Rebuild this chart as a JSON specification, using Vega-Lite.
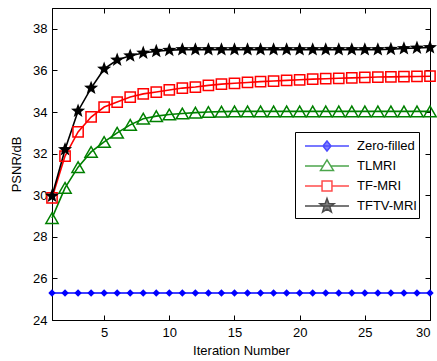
{
  "$schema": "https://vega.github.io/schema/vega-lite/v6.json",
  "autosize": "none",
  "width": 378,
  "height": 312,
  "padding": {"left": 52, "top": 8, "right": 7, "bottom": 41},
  "background": "white",
  "view": {"stroke": "black", "strokeWidth": 1},
  "config": {
    "font": "Liberation Sans",
    "axis": {
      "domainColor": "black", "domainWidth": 1, "tickColor": "black", "tickWidth": 1,
      "labelColor": "black", "labelFont": "Liberation Sans", "labelFontSize": 13,
      "titleFont": "Liberation Sans", "titleFontSize": 13, "titleFontWeight": "normal", "titleColor": "black",
      "grid": false, "tickSize": -5
    }
  },
  "data": {"values": [
    {"method":"Zero-filled","iter":1,"psnr":25.3},{"method":"Zero-filled","iter":2,"psnr":25.3},{"method":"Zero-filled","iter":3,"psnr":25.3},{"method":"Zero-filled","iter":4,"psnr":25.3},{"method":"Zero-filled","iter":5,"psnr":25.3},{"method":"Zero-filled","iter":6,"psnr":25.3},{"method":"Zero-filled","iter":7,"psnr":25.3},{"method":"Zero-filled","iter":8,"psnr":25.3},{"method":"Zero-filled","iter":9,"psnr":25.3},{"method":"Zero-filled","iter":10,"psnr":25.3},
    {"method":"Zero-filled","iter":11,"psnr":25.3},{"method":"Zero-filled","iter":12,"psnr":25.3},{"method":"Zero-filled","iter":13,"psnr":25.3},{"method":"Zero-filled","iter":14,"psnr":25.3},{"method":"Zero-filled","iter":15,"psnr":25.3},{"method":"Zero-filled","iter":16,"psnr":25.3},{"method":"Zero-filled","iter":17,"psnr":25.3},{"method":"Zero-filled","iter":18,"psnr":25.3},{"method":"Zero-filled","iter":19,"psnr":25.3},{"method":"Zero-filled","iter":20,"psnr":25.3},
    {"method":"Zero-filled","iter":21,"psnr":25.3},{"method":"Zero-filled","iter":22,"psnr":25.3},{"method":"Zero-filled","iter":23,"psnr":25.3},{"method":"Zero-filled","iter":24,"psnr":25.3},{"method":"Zero-filled","iter":25,"psnr":25.3},{"method":"Zero-filled","iter":26,"psnr":25.3},{"method":"Zero-filled","iter":27,"psnr":25.3},{"method":"Zero-filled","iter":28,"psnr":25.3},{"method":"Zero-filled","iter":29,"psnr":25.3},{"method":"Zero-filled","iter":30,"psnr":25.3},
    {"method":"TLMRI","iter":1,"psnr":28.9},{"method":"TLMRI","iter":2,"psnr":30.35},{"method":"TLMRI","iter":3,"psnr":31.35},{"method":"TLMRI","iter":4,"psnr":32.08},{"method":"TLMRI","iter":5,"psnr":32.56},{"method":"TLMRI","iter":6,"psnr":33.0},{"method":"TLMRI","iter":7,"psnr":33.38},{"method":"TLMRI","iter":8,"psnr":33.68},{"method":"TLMRI","iter":9,"psnr":33.8},{"method":"TLMRI","iter":10,"psnr":33.88},
    {"method":"TLMRI","iter":11,"psnr":33.93},{"method":"TLMRI","iter":12,"psnr":33.97},{"method":"TLMRI","iter":13,"psnr":34.0},{"method":"TLMRI","iter":14,"psnr":34.02},{"method":"TLMRI","iter":15,"psnr":34.03},{"method":"TLMRI","iter":16,"psnr":34.03},{"method":"TLMRI","iter":17,"psnr":34.03},{"method":"TLMRI","iter":18,"psnr":34.03},{"method":"TLMRI","iter":19,"psnr":34.03},{"method":"TLMRI","iter":20,"psnr":34.03},
    {"method":"TLMRI","iter":21,"psnr":34.03},{"method":"TLMRI","iter":22,"psnr":34.03},{"method":"TLMRI","iter":23,"psnr":34.03},{"method":"TLMRI","iter":24,"psnr":34.03},{"method":"TLMRI","iter":25,"psnr":34.03},{"method":"TLMRI","iter":26,"psnr":34.03},{"method":"TLMRI","iter":27,"psnr":34.03},{"method":"TLMRI","iter":28,"psnr":34.03},{"method":"TLMRI","iter":29,"psnr":34.03},{"method":"TLMRI","iter":30,"psnr":34.03},
    {"method":"TF-MRI","iter":1,"psnr":29.87},{"method":"TF-MRI","iter":2,"psnr":31.88},{"method":"TF-MRI","iter":3,"psnr":33.04},{"method":"TF-MRI","iter":4,"psnr":33.76},{"method":"TF-MRI","iter":5,"psnr":34.24},{"method":"TF-MRI","iter":6,"psnr":34.48},{"method":"TF-MRI","iter":7,"psnr":34.72},{"method":"TF-MRI","iter":8,"psnr":34.87},{"method":"TF-MRI","iter":9,"psnr":34.96},{"method":"TF-MRI","iter":10,"psnr":35.06},
    {"method":"TF-MRI","iter":11,"psnr":35.15},{"method":"TF-MRI","iter":12,"psnr":35.2},{"method":"TF-MRI","iter":13,"psnr":35.28},{"method":"TF-MRI","iter":14,"psnr":35.34},{"method":"TF-MRI","iter":15,"psnr":35.38},{"method":"TF-MRI","iter":16,"psnr":35.42},{"method":"TF-MRI","iter":17,"psnr":35.46},{"method":"TF-MRI","iter":18,"psnr":35.49},{"method":"TF-MRI","iter":19,"psnr":35.52},{"method":"TF-MRI","iter":20,"psnr":35.55},
    {"method":"TF-MRI","iter":21,"psnr":35.58},{"method":"TF-MRI","iter":22,"psnr":35.6},{"method":"TF-MRI","iter":23,"psnr":35.62},{"method":"TF-MRI","iter":24,"psnr":35.64},{"method":"TF-MRI","iter":25,"psnr":35.66},{"method":"TF-MRI","iter":26,"psnr":35.68},{"method":"TF-MRI","iter":27,"psnr":35.69},{"method":"TF-MRI","iter":28,"psnr":35.7},{"method":"TF-MRI","iter":29,"psnr":35.71},{"method":"TF-MRI","iter":30,"psnr":35.72},
    {"method":"TFTV-MRI","iter":1,"psnr":29.96},{"method":"TFTV-MRI","iter":2,"psnr":32.2},{"method":"TFTV-MRI","iter":3,"psnr":34.05},{"method":"TFTV-MRI","iter":4,"psnr":35.15},{"method":"TFTV-MRI","iter":5,"psnr":36.07},{"method":"TFTV-MRI","iter":6,"psnr":36.5},{"method":"TFTV-MRI","iter":7,"psnr":36.7},{"method":"TFTV-MRI","iter":8,"psnr":36.84},{"method":"TFTV-MRI","iter":9,"psnr":36.92},{"method":"TFTV-MRI","iter":10,"psnr":36.97},
    {"method":"TFTV-MRI","iter":11,"psnr":37.0},{"method":"TFTV-MRI","iter":12,"psnr":37.0},{"method":"TFTV-MRI","iter":13,"psnr":37.0},{"method":"TFTV-MRI","iter":14,"psnr":37.0},{"method":"TFTV-MRI","iter":15,"psnr":37.0},{"method":"TFTV-MRI","iter":16,"psnr":37.0},{"method":"TFTV-MRI","iter":17,"psnr":37.0},{"method":"TFTV-MRI","iter":18,"psnr":37.0},{"method":"TFTV-MRI","iter":19,"psnr":37.0},{"method":"TFTV-MRI","iter":20,"psnr":37.0},
    {"method":"TFTV-MRI","iter":21,"psnr":37.0},{"method":"TFTV-MRI","iter":22,"psnr":37.0},{"method":"TFTV-MRI","iter":23,"psnr":37.0},{"method":"TFTV-MRI","iter":24,"psnr":37.0},{"method":"TFTV-MRI","iter":25,"psnr":37.0},{"method":"TFTV-MRI","iter":26,"psnr":37.0},{"method":"TFTV-MRI","iter":27,"psnr":37.02},{"method":"TFTV-MRI","iter":28,"psnr":37.05},{"method":"TFTV-MRI","iter":29,"psnr":37.08},{"method":"TFTV-MRI","iter":30,"psnr":37.1}
  ]},
  "layer": [
    {
      "transform": [{"filter": "datum.method === 'Zero-filled'"}],
      "mark": {"type": "line", "strokeWidth": 1.6, "color": "#0000ff"},
      "encoding": {
        "x": {"field": "iter", "type": "quantitative", "scale": {"domain": [1, 30], "nice": false, "zero": false},
              "axis": {"orient": "bottom", "values": [5, 10, 15, 20, 25, 30], "title": "Iteration Number", "labelPadding": 11, "titlePadding": 5}},
        "y": {"field": "psnr", "type": "quantitative", "scale": {"domain": [24, 39], "nice": false, "zero": false},
              "axis": {"orient": "left", "values": [24, 26, 28, 30, 32, 34, 36, 38], "title": "PSNR/dB", "labelPadding": 10, "titlePadding": 9}}
      }
    },
    {
      "transform": [{"filter": "datum.method === 'TLMRI'"}],
      "mark": {"type": "line", "strokeWidth": 1.6, "color": "#008000"},
      "encoding": {
        "x": {"field": "iter", "type": "quantitative", "axis": null},
        "y": {"field": "psnr", "type": "quantitative", "axis": null}
      }
    },
    {
      "transform": [{"filter": "datum.method === 'TF-MRI'"}],
      "mark": {"type": "line", "strokeWidth": 1.6, "color": "#ff0000"},
      "encoding": {
        "x": {"field": "iter", "type": "quantitative", "axis": null},
        "y": {"field": "psnr", "type": "quantitative", "axis": null}
      }
    },
    {
      "transform": [{"filter": "datum.method === 'TFTV-MRI'"}],
      "mark": {"type": "line", "strokeWidth": 1.6, "color": "#000000"},
      "encoding": {
        "x": {"field": "iter", "type": "quantitative", "axis": null},
        "y": {"field": "psnr", "type": "quantitative", "axis": null}
      }
    },
    {
      "transform": [{"filter": "datum.method === 'Zero-filled'"}],
      "mark": {"type": "point", "shape": "diamond", "filled": true, "color": "#0000ff", "size": 55, "opacity": 1},
      "encoding": {
        "x": {"field": "iter", "type": "quantitative", "axis": null},
        "y": {"field": "psnr", "type": "quantitative", "axis": null}
      }
    },
    {
      "transform": [{"filter": "datum.method === 'TLMRI'"}],
      "mark": {"type": "point", "shape": "triangle-up", "filled": false, "color": "#008000", "size": 150, "strokeWidth": 1.5, "opacity": 1},
      "encoding": {
        "x": {"field": "iter", "type": "quantitative", "axis": null},
        "y": {"field": "psnr", "type": "quantitative", "axis": null}
      }
    },
    {
      "transform": [{"filter": "datum.method === 'TF-MRI'"}],
      "mark": {"type": "point", "shape": "square", "filled": false, "color": "#ff0000", "size": 105, "strokeWidth": 1.5, "opacity": 1},
      "encoding": {
        "x": {"field": "iter", "type": "quantitative", "axis": null},
        "y": {"field": "psnr", "type": "quantitative", "axis": null}
      }
    },
    {
      "transform": [{"filter": "datum.method === 'TFTV-MRI'"}],
      "mark": {"type": "point", "shape": "M0,-1L0.2469,-0.3399L0.9511,-0.309L0.3995,0.1298L0.5878,0.809L0,0.42L-0.5878,0.809L-0.3995,0.1298L-0.9511,-0.309L-0.2469,-0.3399Z", "filled": true, "color": "#000000", "size": 220, "opacity": 1},
      "encoding": {
        "x": {"field": "iter", "type": "quantitative", "axis": null},
        "y": {"field": "psnr", "type": "quantitative", "axis": null}
      }
    },
    {
      "transform": [{"filter": "datum.iter > 100"}],
      "mark": {"type": "point", "filled": true, "strokeWidth": 1.5},
      "encoding": {
        "x": {"field": "iter", "type": "quantitative", "axis": null},
        "y": {"field": "psnr", "type": "quantitative", "axis": null},
        "stroke": {"field": "method", "type": "nominal",
                   "scale": {"domain": ["Zero-filled", "TLMRI", "TF-MRI", "TFTV-MRI"], "range": ["#0000ff", "#008000", "#ff0000", "#000000"]},
                   "legend": {"orient": "none", "legendX": 243, "legendY": 124, "title": null,
                              "strokeColor": "black", "fillColor": "white", "padding": 2, "rowPadding": -1,
                              "symbolSize": 484, "labelOffset": 36, "labelFont": "Liberation Sans", "labelFontSize": 13,
                              "labelColor": "black", "symbolStrokeWidth": 1.5, "cornerRadius": 0}},
        "fill": {"field": "method", "type": "nominal",
                 "scale": {"domain": ["Zero-filled", "TLMRI", "TF-MRI", "TFTV-MRI"], "range": ["#0000ff", "#ffffff", "#ffffff", "#000000"]}},
        "shape": {"field": "method", "type": "nominal",
                  "scale": {"domain": ["Zero-filled", "TLMRI", "TF-MRI", "TFTV-MRI"],
                            "range": [
                              "M-0.364,0L3.636,0M1.636,-0.45L2.0,0L1.636,0.45L1.272,0Z",
                              "M-0.364,0L1.294,0M1.978,0L3.636,0M1.636,-0.55L2.226,0.4L1.046,0.4Z",
                              "M-0.364,0L1.186,0M2.086,0L3.636,0M1.186,-0.45L2.086,-0.45L2.086,0.45L1.186,0.45Z",
                              "M-0.364,0L3.636,0M1.636,-0.68L1.8006,-0.2265L2.2827,-0.2101L1.9023,0.0865L2.0357,0.5501L1.636,0.28L1.2363,0.5501L1.3697,0.0865L0.9893,-0.2101L1.4714,-0.2265Z"
                            ]}}
      }
    },
    {
      "mark": {"type": "point", "opacity": 0},
      "encoding": {
        "x": {"field": "iter", "type": "quantitative", "axis": {"orient": "top", "values": [5, 10, 15, 20, 25, 30], "labels": false, "title": null}},
        "y": {"field": "psnr", "type": "quantitative", "axis": {"orient": "right", "values": [24, 26, 28, 30, 32, 34, 36, 38], "labels": false, "title": null}}
      }
    }
  ],
  "resolve": {"axis": {"x": "independent", "y": "independent"}}
}
